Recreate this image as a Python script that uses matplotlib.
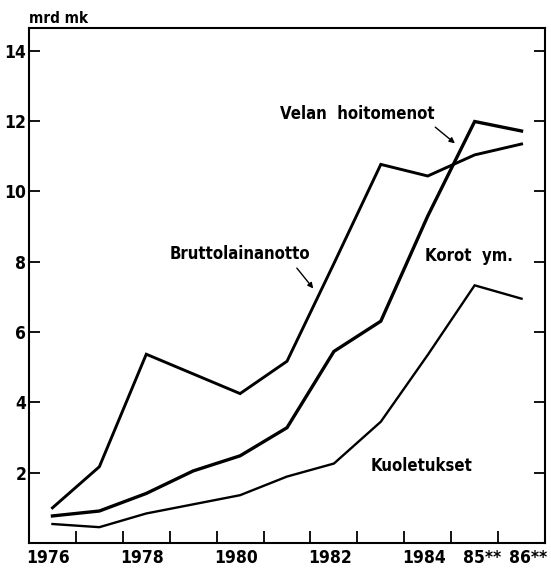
import matplotlib
matplotlib.use("Agg")
import matplotlib.pyplot as plt
import matplotlib.transforms as mtransforms
import numpy as np

# -------------------------------
# Data (mrd mk)
# -------------------------------
years = [1976, 1977, 1978, 1979, 1980, 1981, 1982, 1983, 1984, 1985, 1986]
bruttolainanotto = [1.0, 2.17, 5.37, 4.81, 4.25, 5.17, 7.95, 10.77, 10.44, 11.04, 11.35]
velan_hoitomenot = [0.77, 0.91, 1.41, 2.05, 2.48, 3.28, 5.45, 6.31, 9.3, 11.99, 11.72]
kuoletukset = [0.54, 0.45, 0.84, 1.1, 1.36, 1.89, 2.26, 3.45, 5.35, 7.33, 6.95]

xtick_years = [1976, 1978, 1980, 1982, 1984, 1985, 1986]
xtick_labels = ['1976', '1978', '1980', '1982', '1984', '85**', '86**']
ytick_values = [2, 4, 6, 8, 10, 12, 14]

plt.rcParams['font.family'] = ['DejaVu Sans']
plt.rcParams['font.stretch'] = 'condensed'
plt.rcParams['font.weight'] = 'bold'

fig = plt.figure(figsize=(5.51, 5.68), dpi=100)
ax = fig.add_axes([29 / 551, 25 / 568, 516 / 551, 515 / 568])

ax.plot(years, bruttolainanotto, color='black', lw=2.1, solid_joinstyle='miter')
ax.plot(years, velan_hoitomenot, color='black', lw=2.4, solid_joinstyle='miter')
ax.plot(years, kuoletukset, color='black', lw=1.7, solid_joinstyle='miter')

ax.set_xlim(1975.5, 1986.5)
ax.set_ylim(0, 14.65)

# x axis: labels at the years, tick marks between the years
ax.set_xticks(xtick_years)
ax.set_xticklabels(xtick_labels, fontsize=12.5, fontweight='bold')
ax.set_xticks(np.array(years[:-1]) + 0.5, minor=True)
ax.tick_params(axis='x', which='major', length=0, pad=4)
ax.tick_params(axis='x', which='minor', direction='in', length=9, width=1.3)
for lbl in ax.get_xticklabels():
    shift = 7 if '*' in lbl.get_text() else -4
    lbl.set_transform(lbl.get_transform() +
                      mtransforms.ScaledTranslation(shift / 100, 0, fig.dpi_scale_trans))

ax.set_yticks(ytick_values)
ax.set_yticklabels([str(v) for v in ytick_values], fontsize=12.5, fontweight='bold')
ax.tick_params(axis='y', which='major', direction='in', length=8, width=1.3,
               right=True, pad=2)

for s in ax.spines.values():
    s.set_linewidth(1.5)

ax.text(0.0, 1.004, 'mrd mk', transform=ax.transAxes, ha='left', va='bottom',
        fontsize=11, fontweight='bold')

# -------------------------------
# Series labels and arrows
# -------------------------------
ax.text(1982.49, 12.2, 'Velan  hoitomenot', ha='center', va='center',
        fontsize=12, fontweight='bold')
ax.text(1980.0, 8.22, 'Bruttolainanotto', ha='center', va='center',
        fontsize=12, fontweight='bold')
ax.text(1984.87, 8.17, 'Korot  ym.', ha='center', va='center',
        fontsize=12, fontweight='bold')
ax.text(1983.86, 2.19, 'Kuoletukset', ha='center', va='center',
        fontsize=12, fontweight='bold')

arrow = dict(arrowstyle='-|>', color='black', lw=1.0, mutation_scale=8,
             shrinkA=0, shrinkB=0)
ax.annotate('', xy=(1984.58, 11.37), xytext=(1984.16, 11.83), arrowprops=arrow)
ax.annotate('', xy=(1981.56, 7.24), xytext=(1981.21, 7.82), arrowprops=arrow)

fig.savefig('out.png', dpi=100)
